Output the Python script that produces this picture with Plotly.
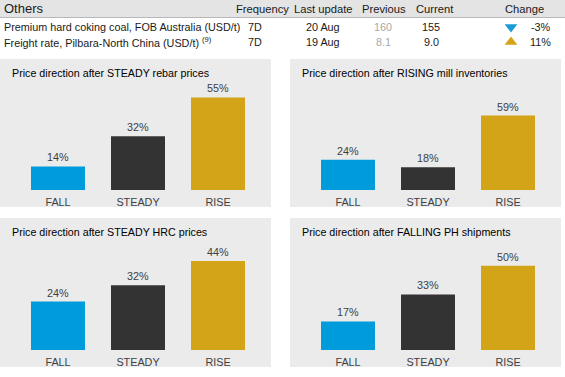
import plotly.graph_objects as go

W, H = 565, 377

# ---------------- data ----------------
categories = ["FALL", "STEADY", "RISE"]
panel_titles = [
    "Price direction after STEADY rebar prices",
    "Price direction after RISING mill inventories",
    "Price direction after STEADY HRC prices",
    "Price direction after FALLING PH shipments",
]
rebar_values = [14, 32, 55]
inventory_values = [24, 18, 59]
hrc_values = [24, 32, 44]
shipment_values = [17, 33, 50]
panel_values = [rebar_values, inventory_values, hrc_values, shipment_values]

table_title = "Others"
table_headers = ["Frequency", "Last update", "Previous", "Current", "Change"]
row_names = ["Premium hard coking coal, FOB Australia (USD/t)",
             "Freight rate, Pilbara-North China (USD/t)"]
row_notes = ["", "(9)"]
row_frequency = ["7D", "7D"]
row_last_update = ["20 Aug", "19 Aug"]
row_previous = ["160", "8.1"]
row_current = ["155", "9.0"]
row_change = ["-3%", "11%"]
row_direction = ["down", "up"]

# ---------------- style / layout ----------------
FONT = "Arial, 'Liberation Sans', sans-serif"
bar_colors = ["#009BDB", "#333333", "#D4A418"]
dir_colors = {"down": "#1A9BD7", "up": "#D4A418"}
dir_symbols = {"down": "triangle-down", "up": "triangle-up"}
panel_bg = "#EBEBEB"
axis_max = [60, 80, 50, 60]

panel_left = [0, 290, 0, 290]
panel_top = [59, 59, 218, 218]
panel_bottom = [207, 207, 367, 367]
panel_w = 271
bar_base = [190, 190, 350, 350]
plot_h = 101


def px(xp):
    return xp / W


def py(yp):
    return 1 - yp / H


fig = go.Figure()
shapes = []
annotations = []

for i in range(4):
    ax = "" if i == 0 else str(i + 1)
    fig.add_trace(go.Bar(
        x=categories,
        y=panel_values[i],
        marker=dict(color=bar_colors, line=dict(width=0)),
        text=[f"{v}%" for v in panel_values[i]],
        textposition="outside",
        textfont=dict(family=FONT, size=10.8, color="#404040"),
        cliponaxis=False,
        hoverinfo="skip",
        xaxis="x" + ax,
        yaxis="y" + ax,
        showlegend=False,
    ))
    l = panel_left[i]
    fig.layout["xaxis" + ax] = dict(
        domain=[px(l + 18), px(l + 258)],
        anchor="y" + ax,
        type="category",
        showgrid=False, zeroline=False, showline=False,
        ticks="outside", ticklen=2, tickcolor="rgba(0,0,0,0)",
        tickfont=dict(family=FONT, size=10.8, color="#404040"),
        fixedrange=True,
    )
    fig.layout["yaxis" + ax] = dict(
        domain=[py(bar_base[i]), py(bar_base[i] - plot_h)],
        anchor="x" + ax,
        range=[0, axis_max[i]],
        visible=False,
        fixedrange=True,
    )
    shapes.append(dict(type="rect", xref="paper", yref="paper",
                       x0=px(l), x1=px(l + panel_w),
                       y0=py(panel_bottom[i]), y1=py(panel_top[i]),
                       fillcolor=panel_bg, line=dict(width=0), layer="below"))
    annotations.append(dict(text=panel_titles[i], xref="paper", yref="paper",
                            x=px(l + 10), y=py(panel_top[i] + 14),
                            xanchor="left", yanchor="middle", showarrow=False,
                            font=dict(family=FONT, size=10.7, color="#000000")))

# header band
shapes.append(dict(type="rect", xref="paper", yref="paper",
                   x0=0, x1=1, y0=py(17), y1=1,
                   fillcolor="#E4E4E4", line=dict(width=0), layer="below"))
shapes.append(dict(type="line", xref="paper", yref="paper",
                   x0=0, x1=1, y0=py(17.5), y1=py(17.5),
                   line=dict(color="#B8B8B8", width=1), layer="below"))


def txt(s, x, y, anchor="center", size=11, color="#1A1A1A"):
    annotations.append(dict(text=s, xref="paper", yref="paper",
                            x=px(x), y=py(y), xanchor=anchor, yanchor="middle",
                            showarrow=False,
                            font=dict(family=FONT, size=size, color=color)))


txt(table_title, 2, 9, anchor="left", size=13)
header_x = [262, 323, 384, 435, 524]
for hx, h in zip(header_x, table_headers):
    txt(h, hx, 9, size=11.2)

ROW = 10.8
row_y = [27, 42]
for r in range(2):
    name = row_names[r]
    if row_notes[r]:
        name += " <sup>" + row_notes[r] + "</sup>"
    txt(name, 2, row_y[r], anchor="left", size=ROW)
    txt(row_frequency[r], 255, row_y[r], size=ROW)
    txt(row_last_update[r], 323, row_y[r], size=ROW)
    txt(row_previous[r], 383, row_y[r], size=ROW, color="#A8A8A8")
    txt(row_current[r], 431, row_y[r], size=ROW)
    txt(row_change[r], 553, row_y[r], anchor="right", size=ROW)

# direction indicators on a pixel-space overlay axis
fig.add_trace(go.Scatter(
    x=[511, 511], y=row_y, mode="markers",
    marker=dict(symbol=[dir_symbols[d] for d in row_direction],
                color=[dir_colors[d] for d in row_direction],
                size=11, line=dict(width=0)),
    xaxis="x5", yaxis="y5", hoverinfo="skip", showlegend=False,
    cliponaxis=False,
))
fig.layout["xaxis5"] = dict(domain=[0, 1], range=[0, W], visible=False,
                            anchor="y5", fixedrange=True)
fig.layout["yaxis5"] = dict(domain=[0, 1], range=[H, 0], visible=False,
                            anchor="x5", fixedrange=True)

fig.update_layout(
    width=W, height=H,
    margin=dict(l=0, r=0, t=0, b=0),
    paper_bgcolor="#FFFFFF",
    plot_bgcolor="rgba(0,0,0,0)",
    bargap=0.325,
    shapes=shapes,
    annotations=annotations,
    font=dict(family=FONT),
)

fig.write_html("out.html",
               config={"displayModeBar": False},
               post_script="document.body.style.margin='0';document.body.style.padding='0';")
